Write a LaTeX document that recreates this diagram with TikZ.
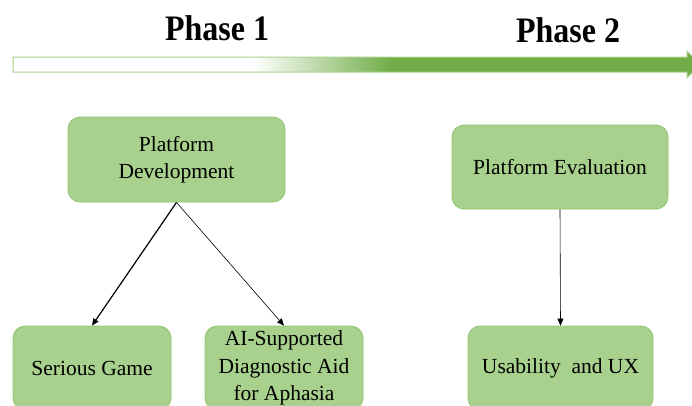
\documentclass[tikz,border=0pt]{standalone}
\usepackage{fontspec}
\setmainfont{Liberation Serif}
\usepackage{tikz}
\usetikzlibrary{arrows.meta}
\usepackage{xcolor}
\definecolor{boxfill}{HTML}{A9D18E}
\definecolor{boxline}{HTML}{8FC46E}
\definecolor{bargreen}{HTML}{70AD47}
\definecolor{barline}{HTML}{A9D18E}
\pgfdeclarehorizontalshading{phasebar}{100bp}{color(0bp)=(white); color(42.5bp)=(white); color(52.5bp)=(bargreen); color(100bp)=(bargreen)}

\begin{document}
\begin{tikzpicture}[x=1pt,y=-1pt,>={Triangle[length=7pt,width=6pt]},
  box/.style={draw=boxline,fill=boxfill,line width=0.8pt,rounded corners=12pt,align=center,
    font=\rmfamily\fontsize{21.5}{27.5}\selectfont,inner sep=0pt},
  phase/.style={font=\fontsize{32}{36}\selectfont\bfseries,anchor=base,yscale=1.12}]
\clip (0,0) rectangle (692,405);
% time bar
\shade[shading=phasebar,draw=barline,line width=1pt]
  (13,57) -- (687,57) -- (687,51) -- (700,64.5) -- (687,78) -- (687,72) -- (13,72) -- cycle;
\node[phase] (ph1) at (217,40) {Phase 1};
\node[phase] (ph2) at (568,42) {Phase 2};
% phase 1
\node[box,minimum width=217pt,minimum height=85pt] (dev) at (176.5,159.5) {Platform\\Development};
\node[box,minimum width=158pt,minimum height=84pt] (game) at (92,368) {Serious Game};
\node[box,minimum width=158pt,minimum height=84pt] (aid) at (284,368) {AI-Supported\\Diagnostic Aid\\for Aphasia};
% phase 2
\node[box,minimum width=216pt,minimum height=84pt] (eval) at (560,167) {Platform Evaluation};
\node[box,minimum width=185pt,minimum height=84pt] (ux) at (560.5,368) {Usability\ \ and UX};
\draw[->,line width=1.2pt] (dev.south) -- (game.north);
\draw[->,line width=0.6pt] (dev.south) -- (aid.north);
\draw[->,line width=0.6pt] (eval.south) -- (ux.north);
\end{tikzpicture}
\end{document}
